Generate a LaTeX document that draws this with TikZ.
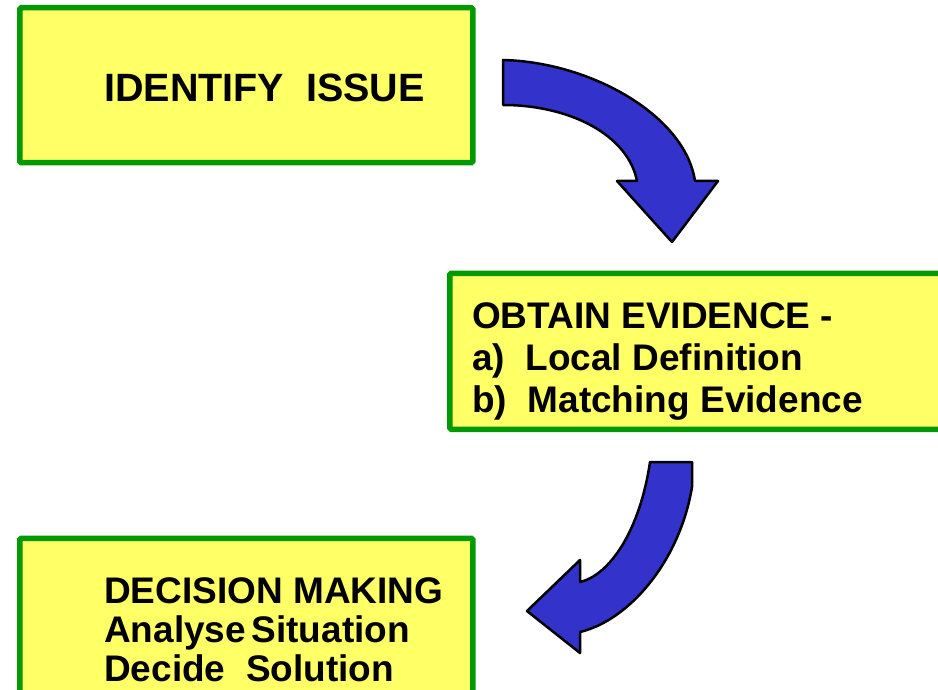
\documentclass[tikz,border=0pt]{standalone}
\usepackage{fontspec}
\setmainfont{Liberation Sans}
\definecolor{boxfill}{HTML}{FFFF66}
\definecolor{boxline}{HTML}{009900}
\definecolor{arrowblue}{HTML}{3333CC}
\begin{document}
\begin{tikzpicture}[x=1pt,y=-1pt,
  box/.style={draw=boxline, fill=boxfill, line width=5.5pt, rounded corners=1.5pt,
    rectangle, anchor=north west, inner sep=0pt},
  boxtext/.style={anchor=base west, inner sep=0pt, align=left, text=black},
  bendarrow/.style={fill=arrowblue, draw=black, line width=2.5pt, line join=round}]
\useasboundingbox (0,0) rectangle (938,690);
\begin{scope}
\clip (0,0) rectangle (938,690);
\node[box, minimum width=453pt, minimum height=155pt] (b1) at (17,5) {};
\node[box, minimum width=500pt, minimum height=156pt] (b2) at (447,270.5) {};
\node[box, minimum width=453pt, minimum height=170pt] (b3) at (17,535.5) {};
\node[boxtext, font=\bfseries\fontsize{39.5}{42}\selectfont] (t1) at (104,102) {IDENTIFY\ \ ISSUE};
\node[boxtext, font=\bfseries\fontsize{37}{42}\selectfont] (t2) at (472,412)
  {OBTAIN EVIDENCE -\\a)\ \ Local Definition\\b)\ \ Matching Evidence};
\node[boxtext, font=\bfseries\fontsize{37}{39}\selectfont] (t3) at (104,681)
  {DECISION MAKING\\Analyse\hspace{0.15em}Situation\\Decide\ \ Solution};
\coordinate (a1s) at (503,60);
\coordinate (a1e) at (503,105);
\draw[bendarrow] (a1s) .. controls (590,62) and (685,115) .. (695,181) -- (718,181)
  -- (672,242) -- (617,181) -- (637,181) .. controls (628,135) and (570,105) .. (a1e) -- cycle;
\coordinate (a2s) at (650,462);
\draw[bendarrow] (a2s) -- (692,462) -- (692,487) .. controls (680,560) and (630,620) .. (580,632)
  -- (580,653) -- (527,611) -- (580,560) -- (580,582) .. controls (610,575) and (640,530) .. (a2s) -- cycle;
\end{scope}
\end{tikzpicture}
\end{document}
